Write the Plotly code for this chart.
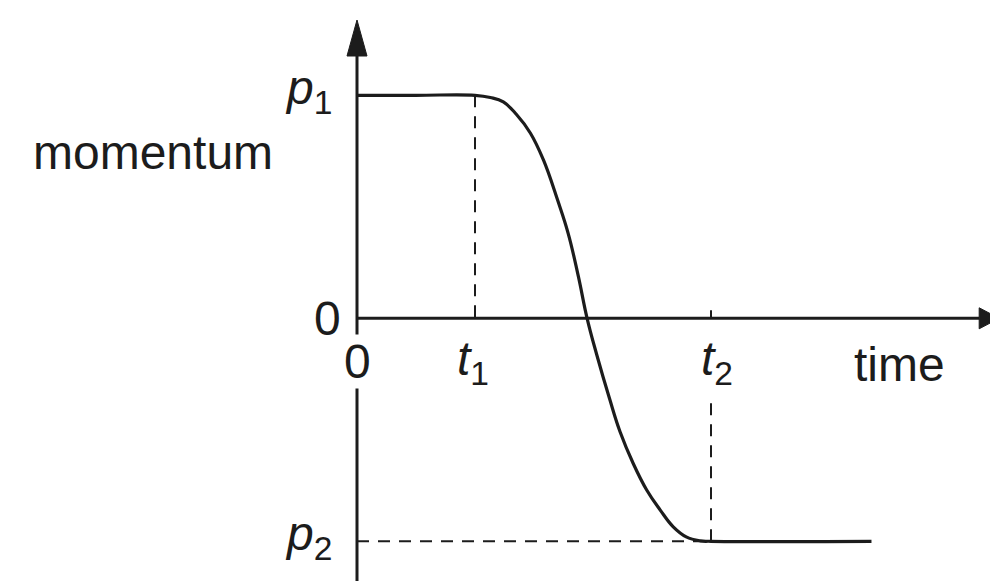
import plotly.graph_objects as go

# momentum curve (time in units of t1, momentum in units of p1)
time = [0.0, 0.5, 1.0, 1.13, 1.24, 1.35, 1.47, 1.58, 1.70, 1.79, 1.875, 1.95,
        2.03, 2.14, 2.23, 2.34, 2.455, 2.57, 2.68, 2.79, 2.91, 3.0, 4.36]
momentum = [1.0, 1.0, 1.0, 0.99, 0.97, 0.915, 0.83, 0.71, 0.53, 0.38, 0.19,
            0.0, -0.16, -0.36, -0.51, -0.65, -0.77, -0.86, -0.935, -0.98,
            -0.998, -1.0, -1.0]

T1, T2 = 1.0, 3.0
P1, P2 = 1.0, -1.0
tick_text = {"t1": "<i>t</i><sub>1</sub>", "t2": "<i>t</i><sub>2</sub>",
             "p1": "<i>p</i><sub>1</sub>", "p2": "<i>p</i><sub>2</sub>"}

# the page body has an 8px margin, so the figure is drawn 8px in from the corner
W, H = 990, 573
px_x, px_y = 118.0, 223.0          # pixels per unit of time / momentum
ORIGIN = (349, 310.3)              # where the axes cross, in figure pixels
X_RANGE = [-ORIGIN[0] / px_x, (W - ORIGIN[0]) / px_x]
Y_RANGE = [(ORIGIN[1] - H) / px_y, ORIGIN[1] / px_y]

INK = "#1c1c1c"
FONT = dict(family="Liberation Sans, Arial, sans-serif", size=48, color=INK)
AXIS_W = 3
DASH = dict(color=INK, width=2, dash="12px,9px")

fig = go.Figure()
fig.add_trace(go.Scatter(x=time, y=momentum, mode="lines",
                         line=dict(color=INK, width=3.2, shape="spline",
                                   smoothing=1.2),
                         hoverinfo="skip"))

# axes with arrow heads
y_tip = (ORIGIN[1] - 12) / px_y
x_tip = X_RANGE[1] + 0.01
ya_len, ya_half = 36 / px_y, 10 / px_x
xa_len, xa_half = 20 / px_x, 10.5 / px_y
t2_gap = -79 / px_y                # dashed line stops under the t2 label
shapes = [
    dict(type="line", x0=0, x1=0, y0=Y_RANGE[0], y1=y_tip - ya_len,
         line=dict(color=INK, width=AXIS_W)),
    dict(type="line", x0=0, x1=x_tip - xa_len, y0=0, y1=0,
         line=dict(color=INK, width=AXIS_W)),
    dict(type="path",
         path=f"M {-ya_half},{y_tip - ya_len} L 0,{y_tip} L {ya_half},{y_tip - ya_len} Z",
         fillcolor=INK, line=dict(color=INK, width=1)),
    dict(type="path",
         path=f"M {x_tip - xa_len},{xa_half} L {x_tip},0 L {x_tip - xa_len},{-xa_half} Z",
         fillcolor=INK, line=dict(color=INK, width=1)),
    # guide lines
    dict(type="line", x0=T1, x1=T1, y0=P1, y1=0, line=DASH),
    dict(type="line", x0=T2, x1=T2, y0=P2, y1=t2_gap, line=DASH),
    dict(type="line", x0=0, x1=T2, y0=P2, y1=P2, line=DASH),
    dict(type="line", x0=T2, x1=T2, y0=0, y1=8 / px_y,
         line=dict(color=INK, width=2)),
]
for s in shapes:
    s.update(xref="x", yref="y", layer="above")
fig.update_layout(shapes=shapes)

ann = [
    dict(x=0, y=P1, text=tick_text["p1"], xanchor="right", xshift=-24, yshift=4),
    dict(x=0, y=P2, text=tick_text["p2"], xanchor="right", xshift=-24, yshift=4),
    dict(x=0, y=0, text="0", xanchor="right", xshift=-15, yshift=0),
    dict(x=0, y=0, text="0", yshift=-43, bgcolor="white"),
    dict(x=T1, y=0, text=tick_text["t1"], xshift=-2, yshift=-44),
    dict(x=T2, y=0, text=tick_text["t2"], xshift=6, yshift=-44),
    dict(x=0, y=P1, text="momentum", xanchor="right", xshift=-83, yshift=-57),
    dict(x=4.6, y=0, text="time", yshift=-46),
]
for a in ann:
    a.update(xref="x", yref="y", showarrow=False, font=FONT, borderpad=0)
fig.update_layout(annotations=ann)

fig.update_layout(
    width=W, height=H, margin=dict(l=0, r=0, t=0, b=0),
    paper_bgcolor="white", plot_bgcolor="white", showlegend=False,
    xaxis=dict(range=X_RANGE, visible=False, fixedrange=True),
    yaxis=dict(range=Y_RANGE, visible=False, fixedrange=True),
)
fig.write_html("out.html")
